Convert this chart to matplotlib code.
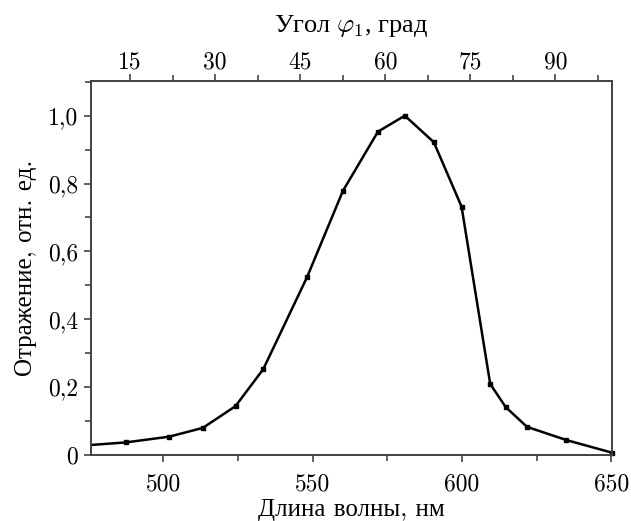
import numpy as np
import matplotlib
matplotlib.use("Agg")
import matplotlib.pyplot as plt
from matplotlib.ticker import FixedLocator, MultipleLocator

# ---------------------------
# Данные
# ---------------------------
wavelength = [476.5, 487.4, 502.0, 513.3, 524.2, 533.5, 548.2, 560.2, 571.9,
              580.9, 590.6, 599.9, 609.5, 614.7, 621.8, 635.0, 650.2]
reflect = [0.030, 0.037, 0.054, 0.080, 0.144, 0.253, 0.525, 0.779, 0.953,
           1.000, 0.922, 0.732, 0.209, 0.141, 0.083, 0.044, 0.007]
has_marker = [False] + [True] * 16

x_ticks = [500, 550, 600, 650]
y_ticks = [0, 0.2, 0.4, 0.6, 0.8, 1.0]
y_labels = ["0", "0,2", "0,4", "0,6", "0,8", "1,0"]
angle_ticks = [15, 30, 45, 60, 75, 90]

plt.rcParams['font.family'] = ['cmr10', 'Liberation Serif']
plt.rcParams['mathtext.fontset'] = 'cm'
plt.rcParams['axes.unicode_minus'] = False

fig = plt.figure(figsize=(6.31, 5.21), dpi=100)
ax = fig.add_axes([0.1437, 0.1267, 0.8263, 0.7183])

ax.plot(wavelength, reflect, color='black', lw=1.8, zorder=3, clip_on=False)
mx = [w for w, m in zip(wavelength, has_marker) if m]
my = [r for r, m in zip(reflect, has_marker) if m]
ax.plot(mx, my, 's', color='black', ms=3.5, zorder=4, clip_on=False)

ax.set_xlim(475.7, 650.3)
ax.set_ylim(0, 1.103)

ax.xaxis.set_major_locator(FixedLocator(x_ticks))
ax.xaxis.set_minor_locator(MultipleLocator(25))
ax.set_xticklabels([str(v) for v in x_ticks])
ax.yaxis.set_major_locator(FixedLocator(y_ticks))
ax.yaxis.set_minor_locator(MultipleLocator(0.1))
ax.set_yticklabels(y_labels)

spine_col = '#444444'
for s in ax.spines.values():
    s.set_color(spine_col)
    s.set_linewidth(1.3)

ax.tick_params(which='both', direction='out', color=spine_col, width=1.2,
               labelsize=17, top=False, right=False)
ax.tick_params(which='major', length=5, pad=4)
ax.tick_params(which='minor', length=4)
ax.tick_params(axis='x', which='major', pad=8)

ax.set_xlabel("Длина волны, нм", fontsize=18, labelpad=3)
ax.set_ylabel("Отражение, отн. ед.", fontsize=18, labelpad=8)

# верхняя ось: угол
ax2 = ax.twiny()
ax2.set_xlim(8.03, 100.0)
ax2.xaxis.set_major_locator(FixedLocator(angle_ticks))
ax2.xaxis.set_minor_locator(MultipleLocator(7.5))
ax2.set_xticklabels([str(v) for v in angle_ticks])
for s in ax2.spines.values():
    s.set_color(spine_col)
    s.set_linewidth(1.3)
ax2.tick_params(which='both', direction='out', color=spine_col, width=1.2,
                labelsize=17)
ax2.tick_params(which='major', length=5, pad=0)
ax2.tick_params(which='minor', length=4)
ax2.set_xlabel(r"Угол $\varphi_1$, град", fontsize=19, labelpad=14,
               family='Liberation Serif')

fig.savefig("out.png", dpi=100)
